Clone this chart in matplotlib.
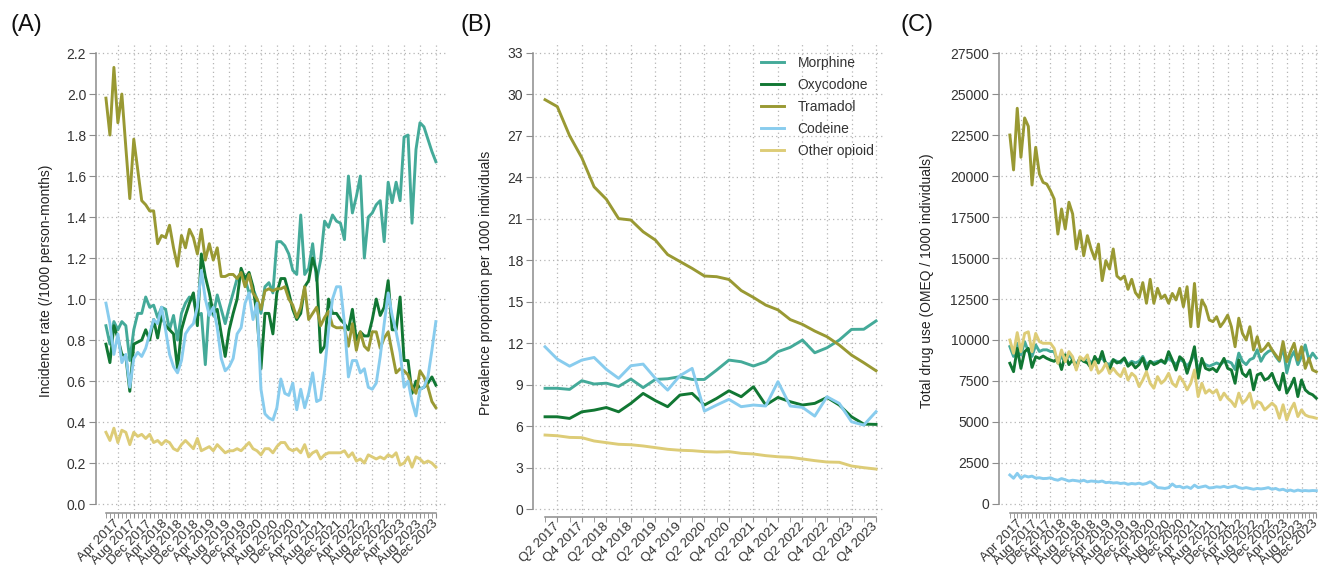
import matplotlib
matplotlib.use("Agg")
import matplotlib.pyplot as plt
import numpy as np

plt.rcParams['font.family'] = ['Liberation Sans', 'DejaVu Sans']

drugs = ["Morphine", "Oxycodone", "Tramadol", "Codeine", "Other opioid"]
colors = ["#44AA99", "#117733", "#999933", "#88CCEE", "#DDCC77"]

month_labels = ["Apr 2017", "Aug 2017", "Dec 2017", "Apr 2018", "Aug 2018", "Dec 2018",
                "Apr 2019", "Aug 2019", "Dec 2019", "Apr 2020", "Aug 2020", "Dec 2020",
                "Apr 2021", "Aug 2021", "Dec 2021", "Apr 2022", "Aug 2022", "Dec 2022",
                "Apr 2023", "Aug 2023", "Dec 2023"]
quarter_labels = ["Q2 2017", "Q4 2017", "Q2 2018", "Q4 2018", "Q2 2019", "Q4 2019",
                  "Q2 2020", "Q4 2020", "Q2 2021", "Q4 2021", "Q2 2022", "Q4 2022",
                  "Q2 2023", "Q4 2023"]

# (A) incidence rate, monthly Jan 2017 - Dec 2023 (one row per year)
inc_morphine = [0.87, 0.78, 0.89, 0.85, 0.89, 0.87, 0.70, 0.85, 0.93, 0.93, 1.01, 0.96,
                0.97, 0.91, 0.96, 0.95, 0.85, 0.92, 0.80, 0.93, 0.98, 1.01, 1.00, 0.92,
                0.93, 0.68, 0.98, 0.92, 1.02, 0.95, 0.88, 0.96, 1.03, 1.10, 1.13, 1.10,
                1.03, 1.05, 1.00, 0.93, 1.06, 1.08, 1.03, 1.28, 1.28, 1.26, 1.22, 1.14,
                1.12, 1.41, 1.12, 1.15, 1.27, 1.09, 1.19, 1.38, 1.35, 1.41, 1.38, 1.37,
                1.29, 1.60, 1.42, 1.50, 1.60, 1.20, 1.40, 1.42, 1.46, 1.48, 1.28, 1.57,
                1.47, 1.57, 1.48, 1.79, 1.80, 1.37, 1.73, 1.86, 1.84, 1.78, 1.72, 1.67]
inc_oxycodone = [0.78, 0.69, 0.87, 0.81, 0.73, 0.72, 0.55, 0.78, 0.79, 0.80, 0.85, 0.80,
                 0.90, 0.81, 0.92, 0.87, 0.85, 0.83, 0.66, 0.85, 0.92, 0.98, 1.03, 0.87,
                 1.22, 1.11, 1.03, 0.93, 0.95, 0.83, 0.72, 0.85, 0.93, 1.00, 1.15, 1.10,
                 1.13, 1.06, 0.92, 0.66, 0.93, 0.93, 0.83, 1.03, 1.10, 1.10, 1.03, 0.95,
                 0.90, 0.93, 1.06, 1.09, 1.20, 1.13, 0.74, 0.77, 1.00, 0.93, 0.93, 0.90,
                 0.88, 0.85, 0.95, 0.80, 0.84, 0.82, 0.82, 0.90, 1.00, 0.92, 0.96, 1.09,
                 0.85, 0.85, 1.01, 0.70, 0.70, 0.54, 0.60, 0.56, 0.57, 0.59, 0.62, 0.58]
inc_tramadol = [1.98, 1.80, 2.13, 1.86, 2.00, 1.74, 1.49, 1.78, 1.63, 1.48, 1.46, 1.43,
                1.43, 1.27, 1.31, 1.30, 1.36, 1.25, 1.16, 1.31, 1.25, 1.34, 1.30, 1.22,
                1.34, 1.19, 1.27, 1.19, 1.25, 1.11, 1.11, 1.12, 1.12, 1.10, 1.13, 1.06,
                1.12, 1.03, 1.00, 0.95, 1.04, 1.05, 1.04, 1.05, 1.05, 1.06, 1.00, 0.97,
                0.91, 0.96, 1.06, 0.90, 0.93, 0.96, 0.87, 0.91, 0.94, 0.87, 0.86, 0.86,
                0.86, 0.77, 0.88, 0.75, 0.84, 0.77, 0.75, 0.84, 0.84, 0.76, 0.81, 0.84,
                0.74, 0.64, 0.66, 0.65, 0.63, 0.57, 0.54, 0.65, 0.62, 0.57, 0.50, 0.47]
inc_codeine = [0.98, 0.88, 0.73, 0.83, 0.69, 0.73, 0.57, 0.71, 0.74, 0.72, 0.76, 0.83,
               0.90, 0.88, 0.96, 0.85, 0.73, 0.67, 0.64, 0.70, 0.83, 0.86, 0.88, 0.96,
               1.14, 1.00, 0.92, 0.96, 0.86, 0.71, 0.65, 0.67, 0.71, 0.83, 0.86, 0.98,
               1.03, 0.90, 0.98, 0.56, 0.44, 0.42, 0.41, 0.47, 0.61, 0.54, 0.53, 0.59,
               0.46, 0.56, 0.47, 0.54, 0.64, 0.50, 0.51, 0.65, 0.85, 1.00, 1.06, 1.06,
               0.88, 0.62, 0.70, 0.70, 0.64, 0.66, 0.57, 0.56, 0.59, 0.72, 0.88, 1.03,
               0.92, 0.84, 0.74, 0.57, 0.60, 0.50, 0.43, 0.56, 0.57, 0.62, 0.75, 0.89]
inc_other = [0.35, 0.31, 0.37, 0.30, 0.36, 0.35, 0.29, 0.35, 0.33, 0.34, 0.32, 0.34,
             0.30, 0.31, 0.29, 0.31, 0.30, 0.27, 0.26, 0.29, 0.31, 0.29, 0.27, 0.32,
             0.26, 0.27, 0.28, 0.26, 0.29, 0.27, 0.25, 0.26, 0.26, 0.27, 0.26, 0.28,
             0.30, 0.27, 0.26, 0.24, 0.27, 0.27, 0.25, 0.28, 0.30, 0.30, 0.27, 0.26,
             0.27, 0.25, 0.29, 0.23, 0.25, 0.26, 0.22, 0.24, 0.25, 0.25, 0.25, 0.25,
             0.26, 0.23, 0.25, 0.21, 0.22, 0.20, 0.24, 0.23, 0.22, 0.23, 0.22, 0.24,
             0.23, 0.25, 0.19, 0.20, 0.23, 0.18, 0.23, 0.22, 0.20, 0.21, 0.20, 0.18]

# (B) prevalence per 1000, quarterly Q1 2017 - Q4 2023
prev_morphine = [8.73, 8.73, 8.65, 9.28, 9.04, 9.10, 8.86, 9.40, 8.78, 9.37, 9.42, 9.57,
                 9.37, 9.37, 10.05, 10.77, 10.65, 10.34, 10.65, 11.38, 11.69, 12.22,
                 11.30, 11.66, 12.22, 12.99, 13.00, 13.60]
prev_oxycodone = [6.67, 6.67, 6.55, 7.03, 7.15, 7.34, 7.03, 7.64, 8.36, 7.84, 7.40, 8.24,
                  8.36, 7.52, 8.00, 8.55, 8.12, 8.84, 7.52, 8.07, 7.76, 7.52, 7.64, 8.07,
                  7.52, 6.67, 6.14, 6.12]
prev_tramadol = [29.6, 29.1, 27.0, 25.4, 23.3, 22.4, 21.0, 20.9, 20.05, 19.45, 18.4, 17.9,
                 17.4, 16.85, 16.8, 16.6, 15.8, 15.3, 14.75, 14.4, 13.7, 13.35, 12.87,
                 12.46, 11.86, 11.13, 10.58, 10.0]
prev_codeine = [11.73, 10.84, 10.33, 10.77, 10.96, 10.10, 9.45, 10.36, 10.48, 9.45, 8.60,
                9.64, 10.17, 7.08, 7.52, 7.93, 7.40, 7.52, 7.45, 9.21, 7.45, 7.35, 6.72,
                8.12, 7.64, 6.31, 6.07, 7.04]
prev_other = [5.35, 5.30, 5.18, 5.16, 4.92, 4.80, 4.68, 4.65, 4.56, 4.44, 4.32, 4.25,
              4.22, 4.15, 4.12, 4.15, 4.03, 3.98, 3.86, 3.78, 3.74, 3.62, 3.50, 3.40,
              3.38, 3.11, 2.99, 2.89]

# (C) total drug use (OMEQ / 1000), monthly Jan 2017 - Dec 2023
use_morphine = [9600, 9000, 9800, 9100, 9900, 9300, 9000, 9700, 9300, 9400, 9400, 9300,
                9300, 8600, 9000, 8700, 9100, 8800, 8500, 8900, 8700, 8900, 8600, 8800,
                8800, 8900, 8600, 8500, 8800, 8700, 8600, 8900, 8500, 8700, 8600, 8700,
                9000, 8500, 8700, 8600, 8700, 8700, 8600, 8900, 8700, 8500, 8800, 8700,
                8400, 8700, 9200, 8200, 8700, 8500, 8400, 8500, 8600, 8500, 8700, 8700,
                8600, 8200, 9200, 8700, 8500, 8800, 8900, 9400, 8700, 9100, 9300, 9400,
                9000, 8700, 9600, 8000, 8900, 9300, 8500, 9000, 9700, 8800, 9200, 8900]
use_oxycodone = [8580, 8070, 9490, 8270, 9290, 9490, 8330, 8980, 8880, 9020, 8880, 8780,
                 8700, 8900, 8200, 9100, 8500, 8800, 8300, 8900, 8700, 8600, 8300, 9000,
                 8600, 9300, 8500, 8200, 8800, 8600, 8700, 8900, 8400, 8600, 8300, 8500,
                 8900, 8200, 8700, 8500, 8600, 8780, 8580, 9290, 8780, 8170, 8980, 8780,
                 7970, 8680, 9590, 7670, 8880, 8270, 8170, 8270, 8070, 8470, 8880, 8270,
                 8170, 7360, 8780, 7970, 7770, 8170, 6960, 7870, 7970, 7560, 7670, 7970,
                 7360, 6960, 7970, 6760, 7160, 7670, 6550, 7560, 6960, 6760, 6660, 6450]
use_tramadol = [22500, 20370, 24130, 21140, 23540, 23030, 19450, 21750, 20120, 19610, 19510, 19100,
                18600, 16460, 17990, 16770, 18400, 17690, 15550, 16670, 15140, 16360, 15550, 14940,
                15850, 13620, 14840, 14330, 15550, 13900, 13700, 13900, 13090, 13700, 12890, 12590,
                13500, 12240, 13700, 12240, 13150, 12540, 12740, 12240, 12840, 12440, 13150, 12030,
                13250, 10810, 13450, 10810, 12440, 12030, 11220, 11120, 11420, 10810, 11120, 11520,
                10810, 9590, 11330, 10400, 10000, 10810, 9390, 10200, 9290, 9490, 9800, 9390,
                9090, 8780, 9900, 8680, 9290, 9800, 8780, 9590, 8270, 8880, 8170, 8060]
use_codeine = [1770, 1570, 1870, 1570, 1720, 1650, 1700, 1580, 1600, 1550, 1560, 1600,
               1500, 1450, 1550, 1480, 1400, 1450, 1420, 1380, 1450, 1350, 1400, 1380,
               1350, 1400, 1300, 1330, 1280, 1300, 1250, 1280, 1200, 1250, 1220, 1270,
               1200, 1250, 1360, 1200, 1000, 980, 950, 1000, 1220, 1050, 1080, 980,
               1050, 950, 1150, 1000, 1050, 1100, 980, 1000, 1050, 1020, 1080, 1000,
               1050, 1100, 1000, 950, 1000, 950, 900, 950, 920, 950, 1000, 900,
               950, 850, 900, 800, 850, 780, 850, 800, 820, 800, 820, 810]
use_other = [10000, 9190, 10450, 9290, 10400, 10500, 9290, 10400, 9900, 9800, 9800, 9800,
             9490, 8580, 9390, 8680, 9290, 8980, 8170, 8980, 8780, 9090, 8170, 8680,
             7970, 8170, 8580, 7970, 8270, 7970, 7770, 8270, 7560, 7970, 7770, 7160,
             7560, 8070, 7360, 7060, 7770, 7360, 7560, 7970, 7360, 7160, 7770, 7460,
             6960, 7360, 8170, 6550, 7360, 6760, 6960, 6760, 6960, 6350, 6760, 6450,
             6250, 5940, 6760, 6150, 6350, 6760, 5840, 6250, 6150, 5740, 5940, 6150,
             5940, 5230, 6050, 5130, 5740, 6150, 5330, 5740, 5430, 5330, 5290, 5230]

W, H = 1320, 568
fig = plt.figure(figsize=(W / 100, H / 100), dpi=100)


def add_axes(left, right, top, bottom):
    return fig.add_axes([left / W, 1 - bottom / H, (right - left) / W, (bottom - top) / H])


def style(ax, n, major, labels, ymax, ystep, yfmt, bottom_out, xpad):
    for s in ["top", "right"]:
        ax.spines[s].set_visible(False)
    for s in ["left", "bottom"]:
        ax.spines[s].set_color("#8c8c8c")
        ax.spines[s].set_linewidth(1.1)
    ax.spines["left"].set_position(("outward", 1.5))
    ax.spines["bottom"].set_position(("outward", bottom_out))
    ax.spines["left"].set_bounds(0, ymax)
    ax.spines["bottom"].set_bounds(0, n - 1)
    ax.set_yticks(np.arange(0, ymax + ystep / 2, ystep))
    ax.set_yticklabels([yfmt(v) for v in np.arange(0, ymax + ystep / 2, ystep)])
    ax.set_xticks(major)
    ax.set_xticks(np.arange(n), minor=True)
    ax.set_xticklabels(labels, rotation=45, ha="right", va="center", rotation_mode="anchor")
    ax.tick_params(axis="both", which="both", colors="#8c8c8c", labelcolor="#333333",
                   labelsize=10, direction="out")
    ax.tick_params(axis="x", labelsize=9.5)
    ax.tick_params(axis="y", length=5, pad=2)
    ax.tick_params(axis="x", which="major", length=3.5, pad=xpad)
    ax.tick_params(axis="x", which="minor", length=3.5)
    ax.grid(True, which="major", color="#b5b5b5", linewidth=0.9, linestyle=(0, (1, 2.5)))
    ax.set_axisbelow(True)


months = np.arange(84)
quarters = np.arange(28)

# (A)
axA = add_axes(98, 447, 43, 510)
for vals, c in zip([inc_morphine, inc_oxycodone, inc_tramadol, inc_codeine, inc_other], colors):
    axA.plot(months, vals, color=c, lw=2.1)
axA.set_xlim(-2.0, 85.8)
axA.set_ylim(-0.029, 2.249)
style(axA, 84, np.arange(3, 84, 4), month_labels, 2.2, 0.2, lambda v: f"{v:.1f}", 2.5, 2.8)
axA.set_ylabel("Incidence rate (/1000 person-months)", fontsize=10, color="#222222")
axA.yaxis.set_label_coords(-0.128, 0.49)

# (B)
axB = add_axes(535, 884, 43, 514)
for vals, c, name in zip([prev_morphine, prev_oxycodone, prev_tramadol, prev_codeine, prev_other],
                         colors, drugs):
    axB.plot(quarters, vals, color=c, lw=2.1, label=name)
axB.set_xlim(-0.82, 27.65)
axB.set_ylim(-0.36, 33.7)
style(axB, 28, np.arange(1, 28, 2), quarter_labels, 33, 3, lambda v: f"{v:.0f}", 2.5, 1.5)
axB.set_ylabel("Prevalence proportion per 1000 individuals", fontsize=10, color="#222222")
axB.yaxis.set_label_coords(-0.12, 0.49)
leg = axB.legend(loc="upper left", bbox_to_anchor=(0.625, 0.99), frameon=False, fontsize=10,
                 handlelength=1.6, handletextpad=1.0, labelspacing=0.58, borderaxespad=0.2)
for t in leg.get_texts():
    t.set_color("#333333")

# (C)
axC = add_axes(1001, 1320, 43, 510)
for vals, c in zip([use_morphine, use_oxycodone, use_tramadol, use_codeine, use_other], colors):
    axC.plot(months, vals, color=c, lw=2.1)
axC.set_xlim(-2.4, 84.0)
axC.set_ylim(-366, 28110)
style(axC, 84, np.arange(3, 84, 4), month_labels, 27500, 2500, lambda v: f"{v:.0f}", 2.5, 2.8)
axC.set_ylabel("Total drug use (OMEQ / 1000 individuals)", fontsize=10, color="#222222")
axC.yaxis.set_label_coords(-0.21, 0.49)

for x, letter in [(10, "(A)"), (461, "(B)"), (901, "(C)")]:
    fig.text(x / W, 1 - 25 / H, letter, fontsize=17, va="center", ha="left", color="#111111")

fig.savefig("out.png", dpi=100)
